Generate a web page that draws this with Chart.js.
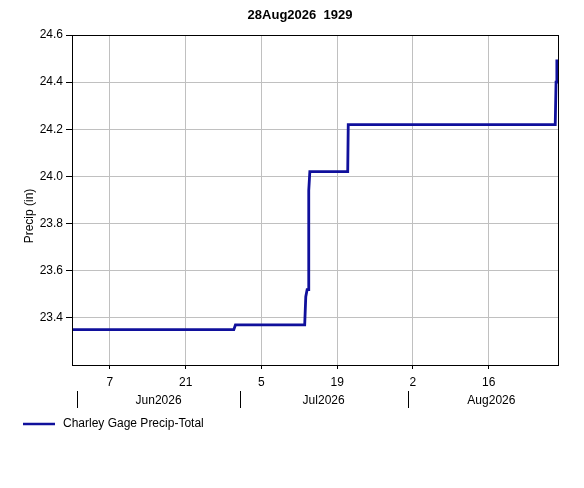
<!DOCTYPE html>
<html>
<head>
<meta charset="utf-8">
<script src="https://cdn.jsdelivr.net/npm/chart.js@4.4.1/dist/chart.umd.min.js"></script>
<style>
  html, body { margin: 0; padding: 0; background: #fff; }
  #wrap { width: 584px; height: 488px; position: relative; }
</style>
</head>
<body>
<div id="wrap"><canvas id="precipChart" width="584" height="488"></canvas></div>
<script>
// x = days since 31May2026 00:00
const chartTitle = "28Aug2026  1929";
const seriesName = "Charley Gage Precip-Total";
const xDays = [0, 29.9, 30.2, 43.0, 43.2, 43.45, 43.65, 43.75, 43.95, 50.95, 51.05, 89.3, 89.45, 89.6, 89.81];
const precip = [23.35, 23.35, 23.37, 23.37, 23.49, 23.52, 23.52, 23.94, 24.02, 24.02, 24.22, 24.22, 24.40, 24.49, 24.49];
const dayTicks = [7, 21, 35, 49, 63, 77];
const dayLabels = ["7", "21", "5", "19", "2", "16"];
const monthStarts = [1, 31, 62, 93];
const monthLabels = ["Jun2026", "Jul2026", "Aug2026"];
const xMax = 89.81;

const FONT = "'Liberation Sans', Arial, sans-serif";
const qs = (id) => document.getElementById(id);

const extras = {
  id: "extras",
  afterDraw(chart) {
    const ctx = chart.ctx;
    const a = chart.chartArea;
    const x = chart.scales.x;
    ctx.save();
    // frame
    ctx.strokeStyle = "#000";
    ctx.lineWidth = 1;
    ctx.strokeRect(Math.round(a.left) + 0.5, Math.round(a.top) + 0.5,
      Math.round(a.right - a.left), Math.round(a.bottom - a.top));
    // title
    ctx.fillStyle = "#000";
    ctx.font = "bold 13px " + FONT;
    ctx.textAlign = "center";
    ctx.textBaseline = "middle";
    ctx.fillText(chartTitle, 300, 15);
    // y title
    ctx.font = "12px " + FONT;
    ctx.translate(30, 216);
    ctx.rotate(-Math.PI / 2);
    ctx.fillText("Precip (in)", 0, 0);
    ctx.setTransform(1, 0, 0, 1, 0, 0);
    // month row
    ctx.font = "12px " + FONT;
    for (let i = 0; i < monthStarts.length; i++) {
      const px = Math.round(x.getPixelForValue(monthStarts[i])) + 0.5;
      if (px <= a.right) {
        ctx.beginPath();
        ctx.moveTo(px, 391);
        ctx.lineTo(px, 408);
        ctx.stroke();
      }
      if (i < monthLabels.length) {
        const mid = (x.getPixelForValue(monthStarts[i]) + x.getPixelForValue(monthStarts[i + 1])) / 2;
        ctx.fillText(monthLabels[i], mid, 401);
      }
    }
    // legend
    const ds = chart.data.datasets[0];
    ctx.strokeStyle = ds.borderColor;
    ctx.lineWidth = 2.5;
    ctx.beginPath();
    ctx.moveTo(23, 424);
    ctx.lineTo(55, 424);
    ctx.stroke();
    ctx.textAlign = "left";
    ctx.fillStyle = "#000";
    ctx.fillText(ds.label, 63, 424);
    ctx.restore();
  }
};

new Chart(qs("precipChart"), {
  type: "line",
  plugins: [extras],
  data: {
    datasets: [{
      label: seriesName,
      data: xDays.map((d, i) => ({ x: d, y: precip[i] })),
      borderColor: "#10109c",
      borderWidth: 2.8,
      pointRadius: 0,
      tension: 0,
      fill: false
    }]
  },
  options: {
    responsive: false,
    animation: false,
    devicePixelRatio: 1,
    layout: { padding: { top: 35, right: 26, left: 0, bottom: 98 } },
    plugins: { legend: { display: false }, title: { display: false }, tooltip: { enabled: false } },
    scales: {
      x: {
        type: "linear",
        min: 0,
        max: xMax,
        afterBuildTicks: (s) => { s.ticks = dayTicks.map((v) => ({ value: v })); },
        afterFit: (s) => { s.height = 25; },
        ticks: {
          autoSkip: false,
          maxRotation: 0,
          color: "#000",
          padding: 6,
          font: { family: FONT, size: 12 },
          callback: (v) => dayLabels[dayTicks.indexOf(v)] ?? ""
        },
        grid: { color: "#c0c0c0", lineWidth: 1, tickLength: 4, tickColor: "#000" },
        border: { display: false }
      },
      y: {
        min: 23.2,
        max: 24.6,
        afterBuildTicks: (s) => {
          s.ticks = [23.4, 23.6, 23.8, 24.0, 24.2, 24.4, 24.6].map((v) => ({ value: v }));
        },
        afterFit: (s) => { s.width = 72; },
        ticks: {
          color: "#000",
          padding: 3,
          font: { family: FONT, size: 12 },
          callback: (v) => Number(v).toFixed(1)
        },
        grid: { color: "#c0c0c0", lineWidth: 1, tickLength: 6, tickColor: "#000" },
        border: { display: false }
      }
    }
  }
});
</script>
</body>
</html>
